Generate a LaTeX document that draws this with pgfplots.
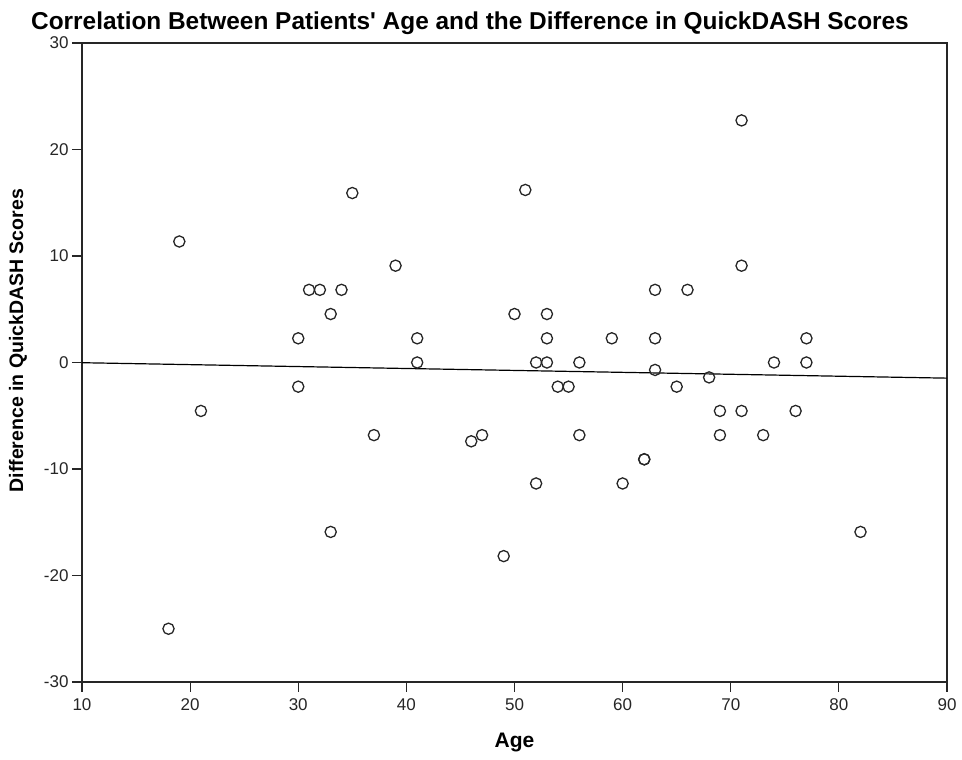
\documentclass[border=0pt]{standalone}
\usepackage{fontspec}
\setmainfont{Liberation Sans}
\usepackage{pgfplots}
\pgfplotsset{compat=1.18}
\begin{document}
\begin{tikzpicture}
\begin{axis}[
    name=ax,
    at={(0,0)}, anchor=south west,
    scale only axis,
    width=865pt, height=639pt,
    xmin=10, xmax=90, ymin=-30, ymax=30,
    xtick={10,20,...,90}, ytick={-30,-20,...,30},
    tick pos=left, tick align=outside,
    major tick length=10pt,
    axis line style={line width=1.2pt, black!85},
    tick style={line width=1.2pt, black!85},
    ticklabel style={font=\fontsize{17}{19}\selectfont, black!85},
    xticklabel style={yshift=-3pt},
    /pgf/number format/assume math mode=true,
    title={Correlation Between Patients\textquotesingle{} Age and the Difference in QuickDASH Scores},
    title style={font=\bfseries\fontsize{24.4}{26}\selectfont, at={(axis description cs:0.4486,1.021)}, anchor=center},
    xlabel={Age},
    ylabel={Difference in QuickDASH Scores},
    xlabel style={font=\bfseries\fontsize{21}{23}\selectfont, at={(axis description cs:0.5,-0.094)}, anchor=center},
    ylabel style={font=\bfseries\fontsize{19.5}{22}\selectfont, at={(axis description cs:-0.074,0.534)}, anchor=center},
]
% patients
\addplot[only marks, mark=o, mark size=5.6pt, line width=1.3pt, black!85] coordinates {
(18,-25) (19,11.36) (21,-4.55) (30,2.27) (30,-2.27) (31,6.82) (32,6.82)
(33,4.55) (33,-15.91) (34,6.82) (35,15.91) (37,-6.82) (39,9.09) (41,2.27)
(41,0) (46,-7.4) (47,-6.82) (49,-18.18) (50,4.55) (51,16.2) (52,0)
(52,-11.36) (53,4.55) (53,2.27) (53,0) (54,-2.27) (55,-2.27) (56,0)
(56,-6.82) (59,2.27) (60,-11.36) (62,-9.09) (62,-9.09) (63,6.82) (63,2.27)
(63,-0.7) (65,-2.27) (66,6.82) (68,-1.4) (69,-4.55) (69,-6.82) (71,22.73)
(71,9.09) (71,-4.55) (73,-6.82) (74,0) (76,-4.55) (77,2.27) (77,0) (82,-15.91)
};
% fit line
\addplot[black, line width=1.2pt] coordinates {(10,-0.02) (90,-1.47)};
\end{axis}
\pgfresetboundingbox
\path[use as bounding box] ([shift={(-82pt,-78pt)}]ax.south west) rectangle ([shift={(15pt,43pt)}]ax.north east);
\end{tikzpicture}
\end{document}
